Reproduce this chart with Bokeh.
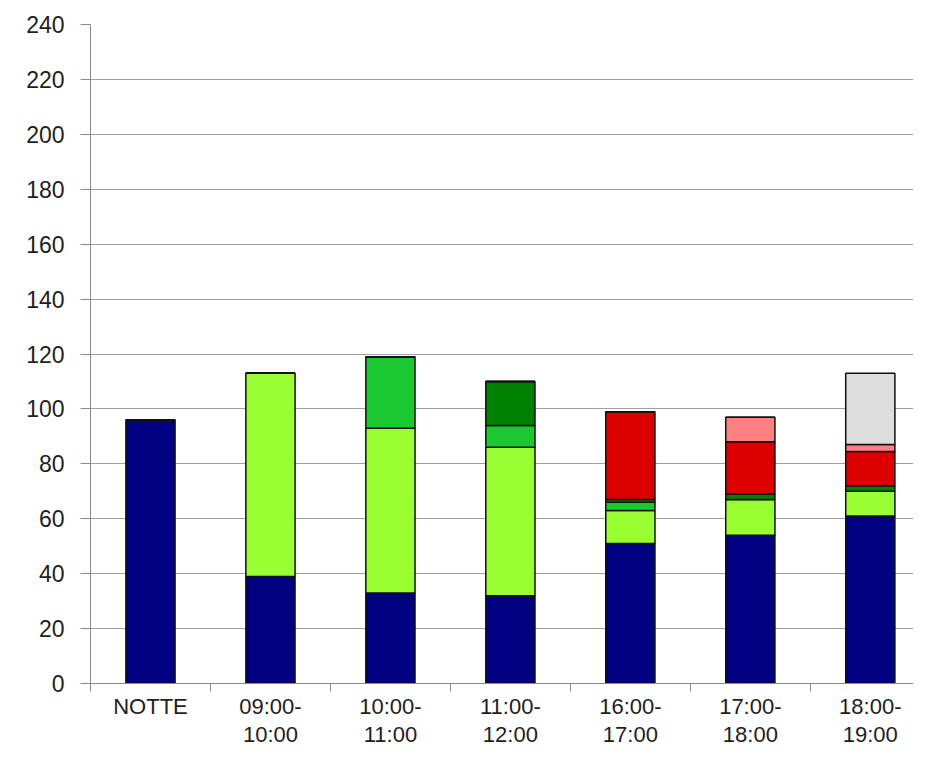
import numpy as np
from bokeh.plotting import figure
from bokeh.models import ColumnDataSource, FixedTicker, Range1d
from bokeh.embed import file_html
from bokeh.resources import INLINE

categories = ["NOTTE", "09:00-\n10:00", "10:00-\n11:00", "11:00-\n12:00",
              "16:00-\n17:00", "17:00-\n18:00", "18:00-\n19:00"]
navy = [96, 39, 33, 32, 51, 54, 61]
light_green = [0, 74, 60, 54, 12, 13, 9]
green = [0, 0, 26, 8, 3, 0, 0]
dark_green = [0, 0, 0, 16, 1, 2, 2]
red = [0, 0, 0, 0, 32, 19, 12.5]
pink = [0, 0, 0, 0, 0, 9, 2.5]
grey = [0, 0, 0, 0, 0, 0, 26]
y_ticks = list(range(0, 241, 20))

series = ["navy", "light_green", "green", "dark_green", "red", "pink", "grey"]
colors = ["#000080", "#99FF33", "#1CC832", "#008000", "#DD0000", "#FF8080", "#DDDDDD"]

n = len(categories)
xs = np.arange(n) + 0.5
src = ColumnDataSource(dict(x=xs, navy=navy, light_green=light_green, green=green,
                            dark_green=dark_green, red=red, pink=pink, grey=grey))

p = figure(width=913, height=749, output_backend="svg", toolbar_location=None,
           x_range=Range1d(0, 6.86), y_range=Range1d(0, 240),
           min_border_left=90, min_border_right=0, min_border_top=24, min_border_bottom=65)
p.outline_line_color = None
p.background_fill_color = "white"
p.border_fill_color = "white"

p.vbar_stack(series, x="x", width=0.41, source=src, fill_color=colors,
             line_color="#111111", line_width=1.5)

font = "Liberation Sans"
p.yaxis.ticker = FixedTicker(ticks=y_ticks)
p.yaxis.major_label_text_font = font
p.yaxis.major_label_text_font_size = "23px"
p.yaxis.major_label_text_color = "#1e1e1e"
p.yaxis.axis_line_color = "#8a8a8a"
p.yaxis.major_tick_line_color = "#8a8a8a"
p.yaxis.major_tick_out = 10
p.yaxis.major_tick_in = 0
p.yaxis.minor_tick_line_color = None
p.yaxis.major_label_standoff = 16

p.xaxis.ticker = FixedTicker(ticks=list(xs), minor_ticks=list(np.arange(n + 1)))
p.xaxis.major_label_overrides = {float(x): c for x, c in zip(xs, categories)}
p.xaxis.major_label_text_font = font
p.xaxis.major_label_text_font_size = "22px"
p.xaxis.major_label_text_line_height = 1.12
p.xaxis.major_label_text_color = "#1e1e1e"
p.xaxis.major_label_standoff = 2
p.xaxis.axis_line_color = "#8a8a8a"
p.xaxis.major_tick_line_color = None
p.xaxis.major_tick_out = 0
p.xaxis.minor_tick_line_color = "#8a8a8a"
p.xaxis.minor_tick_out = 8
p.xaxis.minor_tick_in = 0

p.xgrid.grid_line_color = None
p.ygrid.ticker = FixedTicker(ticks=y_ticks)
p.ygrid.grid_line_color = "#a0a0a0"
p.ygrid.grid_line_width = 1

open("out.html", "w").write(file_html(p, INLINE))
